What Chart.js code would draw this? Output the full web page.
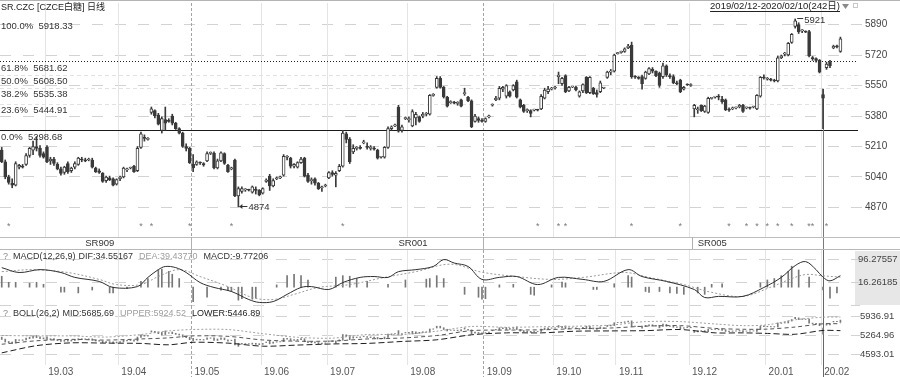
<!DOCTYPE html>
<html><head><meta charset="utf-8">
<script src="https://cdn.jsdelivr.net/npm/chart.js@4.4.0/dist/chart.umd.min.js"></script>
<style>
html,body{margin:0;padding:0;background:#fff;overflow:hidden}
#wrap{position:relative;width:900px;height:377px;background:#fff}
canvas{position:absolute;left:0;display:block}
</style></head><body>
<div id="wrap">
<canvas id="cMain" width="900" height="250" style="top:0;width:900px;height:250px"></canvas>
<canvas id="cMacd" width="900" height="56" style="top:250px;width:900px;height:56px"></canvas>
<canvas id="cBoll" width="900" height="71" style="top:306px;width:900px;height:71px"></canvas>
</div>
<script>
// ---------------- DATA (daily SR, 2019/02/12 - 2020/02/10, 242 days) ----------------
const opens = [5190,5125,5040,5005,4995,5095,5100,5110,5160,5190, 5210,5200,5170,5205,5130,5140,5110,5085,5065,5115, 5075,5095,5110,5140,5135,5135,5135,5090,5075,5060, 5020,5035,5030,5000,5030,5040,5080,5090,5100,5075, 5205,5260,5250,5400,5410,5385,5300,5360,5355,5380, 5340,5310,5285,5210,5200,5110,5110,5120,5115,5130, 5172,5174,5090,5130,5170,5105,5085,5135,4935,4960, 4968,4968,4955,4970,4965,4950,5015,5045,4990,5030, 5035,5050,5150,5145,5100,5095,5120,5145,5050,5020, 5030,5005,4980,4990,5035,5065,5050,5075,5100,5280, 5250,5180,5200,5205,5230,5210,5200,5200,5190,5150, 5150,5205,5310,5325,5430,5300,5365,5360,5325,5370, 5375,5380,5390,5390,5495,5540,5590,5540,5485,5455, 5455,5450,5470,5505,5485,5465,5350,5365,5355,5350, 5375,5440,5470,5480,5530,5490,5515,5525,5570,5470, 5440,5410,5410,5413,5413,5420,5480,5515,5530,5536, 5600,5560,5605,5520,5542,5540,5490,5520,5595,5510, 5535,5510,5515,5536,5595,5625,5630,5728,5735,5740, 5760,5775,5600,5595,5600,5590,5615,5640,5630,5620, 5600,5660,5605,5600,5565,5580,5530,5555,5550,5420, 5415,5440,5405,5400,5478,5485,5490,5475,5470,5415, 5420,5425,5430,5440,5425,5425,5430,5420,5490,5595, 5585,5585,5578,5575,5705,5725,5720,5790,5880,5890, 5855,5850,5850,5705,5700,5690,5500,5650,5680,5760, 5770,5740];
const highs = [5205,5135,5050,5030,5125,5110,5110,5170,5205,5240, 5265,5215,5180,5215,5150,5150,5120,5095,5100,5125, 5095,5125,5150,5150,5145,5145,5145,5095,5085,5065, 5045,5045,5035,5030,5045,5095,5090,5095,5105,5210, 5290,5275,5260,5430,5415,5395,5375,5430,5365,5390, 5345,5315,5290,5225,5205,5165,5130,5125,5120,5180, 5180,5180,5140,5180,5175,5110,5095,5140,4985,4985, 4975,4972,4990,4985,4970,4980,5030,5055,5030,5040, 5045,5165,5160,5150,5115,5125,5150,5150,5060,5035, 5035,5010,4990,5000,5070,5075,5070,5110,5300,5290, 5260,5220,5210,5215,5245,5230,5215,5210,5195,5155, 5210,5320,5325,5335,5440,5330,5375,5375,5415,5400, 5380,5400,5400,5500,5505,5600,5600,5545,5490,5465, 5462,5460,5475,5535,5490,5470,5390,5375,5365,5370, 5385,5448,5490,5545,5545,5555,5520,5555,5580,5475, 5445,5420,5415,5418,5418,5500,5535,5545,5540,5545, 5625,5595,5610,5545,5546,5545,5520,5560,5600,5600, 5540,5525,5575,5540,5630,5640,5725,5735,5742,5760, 5780,5792,5605,5600,5608,5630,5650,5650,5632,5625, 5675,5665,5615,5610,5575,5585,5545,5560,5560,5445, 5430,5442,5440,5485,5484,5490,5500,5490,5475,5425, 5430,5430,5445,5445,5430,5430,5435,5500,5600,5610, 5595,5590,5585,5715,5720,5735,5790,5840,5921,5900, 5862,5855,5858,5712,5705,5695,5530,5680,5690,5775, 5775,5820];
const lows = [5120,5030,5000,4980,4990,5085,5090,5105,5150,5165, 5185,5150,5145,5120,5110,5105,5080,5050,5055,5060, 5065,5085,5105,5125,5125,5130,5090,5065,5060,5010, 5010,5020,4990,4995,5020,5035,5070,5085,5065,5070, 5200,5240,5245,5390,5370,5330,5285,5300,5345,5330, 5305,5280,5205,5185,5115,5070,5105,5110,5100,5125, 5165,5085,5085,5125,5110,5065,5080,4930,4874,4950, 4960,4962,4950,4945,4935,4945,5010,4965,4985,5025, 5030,5045,5135,5090,5090,5090,5115,5040,5010,5000, 4995,4970,4960,4985,5030,5045,4985,5070,5095,5230, 5115,5170,5190,5195,5225,5195,5190,5190,5140,5145, 5145,5200,5300,5320,5290,5290,5360,5345,5320,5330, 5345,5370,5380,5385,5490,5535,5535,5480,5430,5450, 5448,5440,5430,5495,5460,5315,5345,5345,5345,5345, 5370,5435,5465,5470,5515,5480,5485,5520,5480,5425, 5400,5400,5375,5408,5408,5415,5475,5505,5525,5530, 5560,5550,5510,5515,5538,5520,5485,5510,5505,5505, 5500,5485,5510,5532,5590,5610,5625,5725,5730,5735, 5755,5590,5590,5585,5530,5585,5610,5620,5600,5540, 5590,5600,5590,5560,5555,5510,5525,5550,5545,5375, 5395,5405,5400,5395,5474,5480,5470,5450,5410,5405, 5415,5420,5425,5400,5420,5418,5425,5415,5485,5585, 5580,5575,5570,5570,5700,5715,5715,5785,5870,5840, 5845,5845,5710,5690,5680,5620,5310,5640,5650,5755, 5760,5735];
const closes = [5125,5040,5010,4995,5115,5105,5095,5160,5200,5210, 5200,5160,5150,5125,5140,5115,5085,5060,5095,5070, 5090,5115,5145,5135,5130,5135,5095,5070,5065,5015, 5040,5025,4995,5025,5040,5090,5085,5090,5070,5200, 5280,5255,5255,5420,5380,5335,5365,5340,5350,5340, 5310,5285,5210,5200,5120,5090,5125,5118,5108,5170, 5174,5090,5130,5175,5115,5070,5090,4935,4975,4975, 4968,4966,4985,4965,4940,4975,5023,4990,5020,5034, 5040,5155,5150,5100,5110,5120,5140,5045,5015,5025, 5005,4975,4985,4995,5065,5055,5060,5100,5285,5250, 5125,5200,5200,5200,5235,5205,5205,5195,5145,5152, 5205,5310,5320,5330,5295,5320,5369,5365,5405,5390, 5350,5390,5395,5495,5497,5590,5540,5486,5435,5458, 5452,5452,5435,5510,5465,5320,5380,5355,5350,5365, 5380,5441,5480,5535,5540,5550,5490,5550,5485,5430, 5405,5415,5395,5413,5412,5490,5525,5530,5536,5540, 5608,5590,5515,5540,5542,5525,5515,5555,5510,5595, 5505,5500,5565,5536,5625,5630,5720,5731,5737,5755, 5770,5600,5597,5590,5560,5625,5645,5630,5605,5550, 5660,5610,5600,5565,5560,5515,5540,5553,5555,5440, 5415,5410,5435,5478,5480,5486,5485,5460,5415,5413, 5425,5425,5440,5405,5425,5424,5430,5495,5595,5592, 5588,5580,5575,5705,5715,5730,5785,5835,5910,5850, 5855,5848,5715,5700,5690,5625,5480,5670,5660,5768, 5765,5810];

// month tick labels and the trading-day index where each month starts
const monthLabels = ['19.03','19.04','19.05','19.06','19.07','19.08','19.09','19.10','19.11','19.12','20.01','20.02'];
const monthStarts = [13,34,55,75,94,117,139,159,177,198,220,236];
const contractBreaks = [55,139];
const contractNames = ['SR909','SR001','SR005'];
const contractLabelAt = [24,114,200];
const contractSeps = [55,139,199];
const priceTicks = [5890,5720,5550,5380,5210,5040,4870];
const fibPct = ['100.0%','61.8%','50.0%','38.2%','23.6%','0.0%'];
const fibVal = [5918.33,5681.62,5608.50,5535.38,5444.91,5298.68];
const starDays = [2,40,43,54,66,98,154,160,162,181,195,209,214,217,220,223,227,232,233,237];
const cursorDay = 236;

// MACD(12,26,9)
const difDays = [0,5,11,17,21,28,32,39,42,45,47,50,53,57,61,66,71,74,78,82,86,89,94,98,103,107,111,114,119,124,127,130,134,138,143,148,154,160,167,173,180,184,191,199,202,206,213,219,224,228,231,234,236,238,241];
const difVals = [68,51,61,51,34,20,-1,2,34,61,72,68,51,16,-1,-15,-43,-53,-50,-25,-1,2,-8,16,34,37,34,54,61,72,96,84,72,27,34,37,9,34,27,20,61,37,20,-8,-36,-32,-32,-1,34,75,89,61,34.55167,22,40];
const deaDays = [0,9,19,28,33,40,45,51,57,65,72,78,84,91,100,110,119,129,138,148,158,167,179,186,196,204,213,221,226,231,236,241];
const deaVals = [54,61,51,27,9,9,37,61,37,2,-36,-43,-25,-1,9,34,54,80,52,37,27,34,51,34,9,-18,-32,0,25,44,39.4377,35];
const macdBarDays = [0,2,4,8,10,12,17,18,22,26,31,32,36,40,42,45,46,48,49,51,55,59,63,65,66,68,69,72,73,79,82,84,86,88,96,98,100,102,105,111,116,122,123,125,127,133,137,138,139,143,147,152,153,158,161,162,170,171,176,180,181,185,186,189,192,194,196,200,202,204,207,218,220,222,224,226,227,229,232,236,238,240];
const macdBarVals = [38,17,17,14,17,10,-17,-17,-20,-10,-20,-20,-5,20,30,60,63,55,45,30,-50,-35,-10,-12,-15,-45,-40,-42,-38,8,40,45,40,25,35,40,38,30,20,10,25,28,30,40,30,-25,-35,-42,-40,8,10,-25,-28,8,18,15,-8,-8,12,40,35,-15,-18,-15,-20,-22,-25,-20,-25,10,12,15,25,30,40,55,73,60,35,-9.77206,-38,-20];
const macdTicks = [96.27557,16.26185,-63.75187];

// BOLL(26,2)
const bollDays = [0,10,20,30,40,48,55,65,75,85,95,105,115,125,135,145,155,165,175,185,195,205,213,220,228,236,241];
const bollUpper = [5265,5250,5250,5210,5300,5430,5480,5480,5330,5200,5170,5300,5300,5420,5590,5560,5580,5600,5640,5765,5765,5680,5620,5650,5830,5924.52,5930];
const bollMid = [4950,5075,5125,5100,5140,5180,5250,5235,5105,5060,5065,5140,5175,5265,5440,5460,5470,5510,5535,5600,5620,5520,5490,5495,5570,5685.69,5690];
const bollLower = [4640,4900,5000,4990,4980,4930,5020,4990,4880,4920,4960,4980,5050,5110,5290,5360,5360,5420,5430,5440,5480,5360,5360,5340,5310,5446.89,5440];
const bollTicks = [5936.91,5264.96,4593.01];

// ---------------- RENDERING ----------------
const DARK = '#3a3a3a';
const FONT = '"Liberation Sans","DejaVu Sans",Arial,"Noto Sans CJK SC",sans-serif';
Chart.defaults.font.family = FONT;
const N = opens.length;
const idx = Array.from({length: N}, (_, i) => i);

function hline(ctx, y, x0, x1, color, dash) {
  ctx.save(); ctx.strokeStyle = color; ctx.lineWidth = 1; ctx.setLineDash(dash || []);
  const yy = Math.floor(y) + 0.5;
  ctx.beginPath(); ctx.moveTo(x0, yy); ctx.lineTo(x1, yy); ctx.stroke(); ctx.restore();
}
function vline(ctx, x, y0, y1, color, dash) {
  ctx.save(); ctx.strokeStyle = color; ctx.lineWidth = 1; ctx.setLineDash(dash || []);
  const xx = Math.floor(x) + 0.5;
  ctx.beginPath(); ctx.moveTo(xx, y0); ctx.lineTo(xx, y1); ctx.stroke(); ctx.restore();
}
function text(ctx, s, x, y, color, size, align, base) {
  ctx.save(); ctx.fillStyle = color; ctx.font = size + 'px ' + FONT;
  ctx.textAlign = align || 'left'; ctx.textBaseline = base || 'middle';
  ctx.fillText(s, x, y); ctx.restore();
}
function seq(ctx, parts, x, y, size) {
  ctx.save(); ctx.font = size + 'px ' + FONT; ctx.textBaseline = 'middle'; ctx.textAlign = 'left';
  parts.forEach(p => { ctx.fillStyle = p[1]; ctx.fillText(p[0], x, y); x += ctx.measureText(p[0]).width + p[2]; });
  ctx.restore();
}
function monthLines(chart, y0, y1, yStrong) {
  const {ctx, scales: {x}} = chart;
  monthStarts.forEach(m => {
    const px = x.getPixelForValue(m - 0.5);
    if (contractBreaks.includes(m)) vline(ctx, px, y0, yStrong, '#a3a3a3', [3, 2]);
    else vline(ctx, px, y0, y1, '#e4e4e4');
  });
}
const xScale = {type: 'linear', min: -0.5, max: 246.05, display: false, offset: false};
const baseOpts = (pad, ymin, ymax) => ({
  responsive: false, maintainAspectRatio: false, animation: false, events: [], devicePixelRatio: 1,
  layout: {padding: pad},
  plugins: {legend: {display: false}, tooltip: {enabled: false}},
  scales: {x: xScale, y: {display: false, min: ymin, max: ymax}}
});

// ---------- main pane ----------
const mainDeco = {
  id: 'mainDeco',
  beforeDatasetsDraw(chart) {
    const {ctx, chartArea: a, scales: {x, y}} = chart;
    hline(ctx, 0, 0, 900, '#b4b4b4');
    priceTicks.forEach(v => hline(ctx, y.getPixelForValue(v), 0, a.right + 5, '#d2d2d2', [11, 12]));
    monthLines(chart, a.top, a.bottom, 250);
    fibVal.forEach((v, k) => {
      const py = y.getPixelForValue(v);
      if (k === 1) hline(ctx, py, 0, a.right, '#222', [1, 2]);
      else if (k === 5) hline(ctx, py, 0, a.right, '#1a1a1a');
      else if (k > 1) hline(ctx, py, 0, a.right, '#e2e2e2', [4, 3]);
    });
    vline(ctx, x.getPixelForValue(cursorDay), y.getPixelForValue(highs[cursorDay]), 250, '#7a7a7a');
  },
  afterDraw(chart) {
    const {ctx, chartArea: a, scales: {x, y}} = chart;
    // header
    text(ctx, 'SR.CZC [CZCE白糖] 日线', 1, 8, '#222', 9);
    const rng = '2019/02/12-2020/02/10(242日)';
    ctx.save(); ctx.font = '9.5px ' + FONT; const w = ctx.measureText(rng).width; ctx.restore();
    text(ctx, rng, 840, 6, '#222', 9.5, 'right');
    hline(ctx, 11, 840 - w, 840, '#222');
    ctx.save(); ctx.fillStyle = '#8a8a8a'; ctx.beginPath(); ctx.moveTo(842, 4); ctx.lineTo(849, 4); ctx.lineTo(845.5, 9); ctx.closePath(); ctx.fill();
    ctx.strokeStyle = '#c8c8c8'; ctx.strokeRect(853.5, 3.5, 4, 4); ctx.restore();
    // fibonacci labels
    fibVal.forEach((v, k) => text(ctx, fibPct[k] + '  ' + v.toFixed(2), 1, y.getPixelForValue(v) + 6.5, '#333', 9.5));
    // price axis labels
    priceTicks.forEach(v => text(ctx, String(v), 865, y.getPixelForValue(v), '#444', 10));
    // pane borders
    hline(ctx, a.bottom, 0, 900, '#bdbdbd');
    hline(ctx, 249, 0, 900, '#b8b8b8');
    // contract row
    contractSeps.forEach(m => vline(ctx, x.getPixelForValue(m - 0.5), a.bottom, 249, '#b0b0b0'));
    contractNames.forEach((s, k) => text(ctx, s, x.getPixelForValue(contractLabelAt[k]), 243.5, '#333', 9.5));
    // signal stars
    starDays.forEach(d => text(ctx, '*', x.getPixelForValue(d), 229, '#7a7a7a', 9, 'center', 'alphabetic'));
    // extreme annotations
    const hiV = Math.max(...highs), hiI = highs.indexOf(hiV);
    const loV = Math.min(...lows), loI = lows.indexOf(loV);
    let px = x.getPixelForValue(hiI), py = y.getPixelForValue(hiV);
    hline(ctx, py, px + 2, px + 8, '#333'); text(ctx, String(hiV), px + 9, py + 1, '#333', 9.5);
    px = x.getPixelForValue(loI); py = y.getPixelForValue(loV);
    hline(ctx, py, px + 1, px + 9, '#333');
    ctx.save(); ctx.fillStyle = '#333'; ctx.beginPath(); ctx.moveTo(px + 1, Math.floor(py) + 0.5); ctx.lineTo(px + 4, Math.floor(py) - 2); ctx.lineTo(px + 4, Math.floor(py) + 3); ctx.closePath(); ctx.fill(); ctx.restore();
    text(ctx, String(loV), px + 10, py + 1, '#333', 9.5);
  }
};
new Chart(document.getElementById('cMain'), {
  type: 'bar',
  data: {datasets: [
    {label: 'body', data: idx.map(i => ({x: i, y: [opens[i], closes[i]]})),
     backgroundColor: idx.map(i => closes[i] >= opens[i] ? '#ffffff' : DARK), borderColor: DARK,
     borderWidth: 1, borderSkipped: false, barThickness: 3, maxBarThickness: 3, minBarLength: 1, grouped: false, order: 0},
    {label: 'wick', data: idx.map(i => ({x: i, y: [lows[i], highs[i]]})),
     backgroundColor: DARK, borderWidth: 0, barThickness: 1, maxBarThickness: 1, grouped: false, order: 1}
  ]},
  options: baseOpts({left: 0, right: 42, top: 3, bottom: 13}, 4705.5, 6010),
  plugins: [mainDeco]
});

// ---------- MACD pane ----------
const macdStep = (macdTicks[0] - macdTicks[1]) / 23;
const macdDeco = {
  id: 'macdDeco',
  beforeDatasetsDraw(chart) {
    const {ctx, chartArea: a, scales: {x, y}} = chart;
    ctx.save(); ctx.fillStyle = '#e7e7e7'; ctx.fillRect(855, 1, 45, 54); ctx.restore();
    macdTicks.forEach(v => hline(ctx, y.getPixelForValue(v), 0, a.right + 2, '#d2d2d2', [11, 12]));
    monthLines(chart, 0, 56, 56);
    vline(ctx, x.getPixelForValue(cursorDay), 0, 56, '#666');
  },
  afterDraw(chart) {
    const {ctx, scales: {y}} = chart;
    seq(ctx, [['?', '#8a8a8a', 5], ['MACD(12,26,9)', '#333', 3], ['DIF:34.55167', '#333', 6], ['DEA:39.43770', '#9d9d9d', 6], ['MACD:-9.77206', '#333', 0]], 3, 7, 9);
    text(ctx, macdTicks[0].toFixed(5), 858, y.getPixelForValue(macdTicks[0]), '#444', 9.5);
    text(ctx, macdTicks[1].toFixed(5), 858, y.getPixelForValue(macdTicks[1]), '#444', 9.5);
  }
};
new Chart(document.getElementById('cMacd'), {
  type: 'bar',
  data: {datasets: [
    {type: 'line', label: 'DIF', data: difDays.map((d, k) => ({x: d, y: difVals[k]})), borderColor: '#2e2e2e', borderWidth: 1, pointRadius: 0, tension: 0.35, fill: false, order: 0},
    {type: 'line', label: 'DEA', data: deaDays.map((d, k) => ({x: d, y: deaVals[k]})), borderColor: '#9a9a9a', borderWidth: 1, borderDash: [2, 2], pointRadius: 0, tension: 0.35, fill: false, order: 1},
    {label: 'MACD', data: macdBarDays.map((d, k) => ({x: d, y: macdBarVals[k]})), backgroundColor: '#777', barThickness: 1, maxBarThickness: 1, grouped: false, order: 2}
  ]},
  options: baseOpts({left: 0, right: 42, top: 0, bottom: 0}, macdTicks[0] - 46.5 * macdStep, macdTicks[0] + 9.5 * macdStep),
  plugins: [macdDeco]
});

// ---------- BOLL pane ----------
const bollStep = (bollTicks[0] - bollTicks[1]) / 21.5;
const bollDeco = {
  id: 'bollDeco',
  beforeDatasetsDraw(chart) {
    const {ctx, chartArea: a, scales: {x, y}} = chart;
    bollTicks.forEach(v => hline(ctx, y.getPixelForValue(v), 0, a.right + 2, '#d2d2d2', [11, 12]));
    monthLines(chart, 0, a.bottom, 71);
    vline(ctx, x.getPixelForValue(cursorDay), 0, 71, '#666');
  },
  afterDraw(chart) {
    const {ctx, scales: {x, y}} = chart;
    seq(ctx, [['?', '#8a8a8a', 5], ['BOLL(26,2)', '#333', 3], ['MID:5685.69', '#333', 6], ['UPPER:5924.52', '#9d9d9d', 6], ['LOWER:5446.89', '#222', 0]], 3, 8, 9);
    bollTicks.forEach(v => text(ctx, v.toFixed(2), 860, y.getPixelForValue(v), '#444', 9.5));
    monthStarts.forEach((m, k) => text(ctx, monthLabels[k], x.getPixelForValue(m - 0.5) + 3, 66, '#555', 10));
  }
};
new Chart(document.getElementById('cBoll'), {
  type: 'bar',
  data: {datasets: [
    {type: 'line', label: 'UPPER', data: bollDays.map((d, k) => ({x: d, y: bollUpper[k]})), borderColor: '#a0a0a0', borderWidth: 1, borderDash: [2, 2], pointRadius: 0, tension: 0.3, fill: false, order: 0},
    {type: 'line', label: 'MID', data: bollDays.map((d, k) => ({x: d, y: bollMid[k]})), borderColor: '#555', borderWidth: 1, borderDash: [4, 3], pointRadius: 0, tension: 0.3, fill: false, order: 1},
    {type: 'line', label: 'LOWER', data: bollDays.map((d, k) => ({x: d, y: bollLower[k]})), borderColor: '#1e1e1e', borderWidth: 1, borderDash: [6, 3], pointRadius: 0, tension: 0.3, fill: false, order: 2},
    {label: 'price', data: idx.map(i => ({x: i, y: [lows[i], highs[i]]})), backgroundColor: '#7a7a7a', barThickness: 1, maxBarThickness: 1, grouped: false, order: 3}
  ]},
  options: baseOpts({left: 0, right: 42, top: 0, bottom: 12}, bollTicks[0] - 55.5 * bollStep, bollTicks[0] + 12.5 * bollStep),
  plugins: [bollDeco]
});
</script>
</body></html>
